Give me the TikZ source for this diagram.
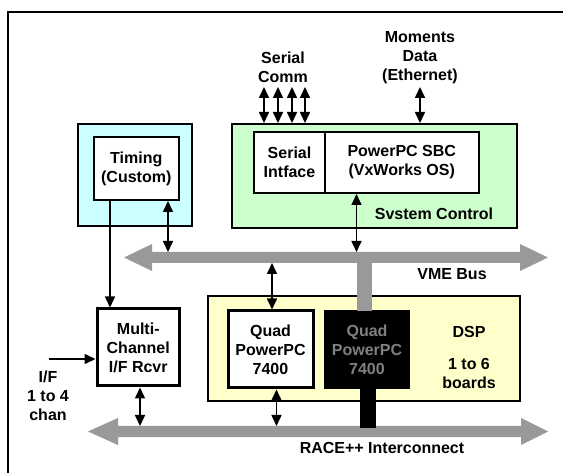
\documentclass[tikz,border=0pt]{standalone}
\usepackage{fontspec}
\setmainfont{Liberation Sans}
\usetikzlibrary{arrows.meta}
\definecolor{busgray}{RGB}{153,153,153}
\definecolor{cyanfill}{RGB}{204,255,255}
\definecolor{greenfill}{RGB}{204,255,204}
\definecolor{yellowfill}{RGB}{255,255,204}
\definecolor{dimtext}{RGB}{128,128,128}
\begin{document}
\begin{tikzpicture}[x=1pt,y=-1pt,
  txt/.style={font=\fontsize{16}{19}\selectfont\bfseries, align=center, inner sep=0pt},
  box/.style={draw, line width=2pt, fill=white, txt},
  thickbox/.style={box, line width=3pt},
  panel/.style={draw, line width=2pt},
  tip/.style={Triangle[width=10pt,length=11pt]},
  dbl/.style={line width=1.6pt, {Triangle[width=10pt,length=11pt]}-{Triangle[width=10pt,length=11pt]}},
  sgl/.style={line width=1.6pt, -{Triangle[width=10pt,length=11pt]}},
  bus/.style={fill=busgray, draw=none}]
\useasboundingbox (0,0) rectangle (563,473);
\clip (0,0) rectangle (563,473);
\fill[white] (0,0) rectangle (563,473);
% outer frame (partly outside the page)
\draw[line width=2.5pt] (8,490) -- (8,12) -- (580,12);

% panels
\node[panel, fill=cyanfill, minimum width=114pt, minimum height=102pt] (tpanel) at (135,175) {};
\node[panel, fill=greenfill, minimum width=285pt, minimum height=104pt] (green) at (374,176) {};
\node[panel, fill=yellowfill, minimum width=312pt, minimum height=105pt] (dsp) at (364,348.5) {};

% boxes
\node[box, minimum width=84.5pt, minimum height=63pt] (timing) at (136.25,168.5) {Timing\\(Custom)};
\node[box, minimum width=71pt, minimum height=61pt] (serial) at (289.5,162.5) {Serial\\Intface};
\node[box, minimum width=153.5pt, minimum height=61pt] (sbc) at (401.75,162.5) {PowerPC SBC\\(VxWorks OS)};
\node[thickbox, minimum width=85pt, minimum height=77pt] (quad) at (270.5,349.5) {Quad\\PowerPC\\7400};
\node[txt, fill=black, text=dimtext, minimum width=86pt, minimum height=79pt] (quadb) at (367,349.5) {Quad\\PowerPC\\7400};
\node[thickbox, minimum width=82.5pt, minimum height=77pt] (multi) at (138.25,347.5) {Multi-\\Channel\\I/F Rcvr};

% labels
\node[txt] (sysl) at (434,214) {Svstem Control};
\node[txt] (dspl) at (469,332) {DSP};
\node[txt] (brdl) at (469,373) {1 to 6\\boards};
\node[txt] (scl) at (283,67) {Serial\\Comm};
\node[txt] (mdl) at (420,58) {Moments\\Data\\(Ethernet)};
\node[txt] (vmel) at (452,274) {VME Bus};
\node[txt] (racel) at (382,448) {RACE++ Interconnect};
\node[txt] (ifl) at (48,396) {I/F\\1 to 4\\chan};

% buses
\coordinate (vmetop) at (0,252);
\coordinate (vmebot) at (0,263);
\coordinate (racetop) at (0,426);
\coordinate (racebot) at (0,437);
\fill[bus] (124,257.5) -- (152,244) -- (152,252) -- (520,252) -- (520,244) -- (548,257.5)
  -- (520,271) -- (520,263) -- (152,263) -- (152,271) -- cycle;
\fill[bus] (88,431.5) -- (118,418) -- (118,426) -- (521,426) -- (521,418) -- (548,431.5)
  -- (521,445) -- (521,437) -- (118,437) -- (118,445) -- cycle;
% stubs
\fill[busgray] (357,262) rectangle (372,311);
\fill[black] (360,389) rectangle (376,428);

% serial comm arrows
\foreach \x/\n in {264/a,278/b,292/c,305/d}{
  \coordinate (sc\n) at (\x,87);
  \draw[dbl] (sc\n) -- (sc\n |- green.north);
}
\coordinate (eth) at (420,87);
\draw[dbl] (eth) -- (eth |- green.north);

% connectors
\draw[dbl] (timing.south -| 168,0) -- (168,0 |- vmetop);
\draw[dbl] (sbc.south -| 356.5,0) -- (356.5,0 |- vmetop);
\draw[sgl] (timing.south -| 110,0) -- (multi.north -| 110,0);
\draw[dbl] (272,0 |- vmebot) -- (quad.north -| 272,0);
\coordinate (ifin) at (49,359);
\draw[sgl] (ifin) -- (ifin -| multi.west);
\draw[dbl] (multi.south -| 140,0) -- (140,0 |- racetop);
\draw[dbl] (quad.south -| 276.5,0) -- (276.5,0 |- racetop);
\end{tikzpicture}
\end{document}
